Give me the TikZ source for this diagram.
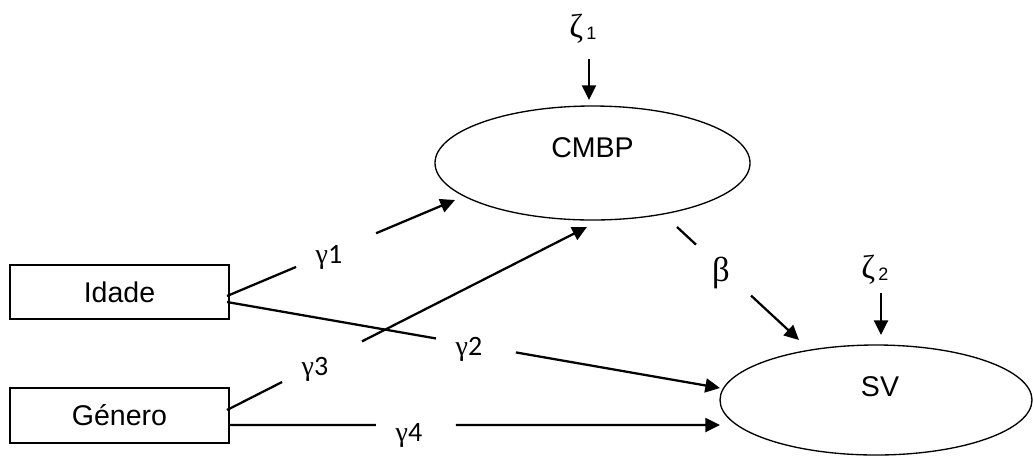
\documentclass[tikz,border=0pt]{standalone}
\usepackage{fontspec}
\setmainfont{Liberation Sans}
\newfontfamily\grk{Liberation Serif}
\newfontfamily\calfont{Carlito}
\usetikzlibrary{arrows.meta,calc,shapes.geometric}
\begin{document}
\begin{tikzpicture}[x=0.75pt,y=-0.75pt,
  box/.style={draw,line width=1pt,inner sep=0pt,minimum width=164.25pt,minimum height=40.5pt,
    font=\fontsize{21.4pt}{24pt}\selectfont},
  ell/.style={draw,ellipse,line width=1pt,inner sep=0pt},
  main/.style={font=\fontsize{21.4pt}{24pt}\selectfont,inner sep=0pt},
  conn/.style={line width=1.7pt},
  arr/.style={conn,-{Triangle[length=11pt,width=10.5pt]}},
  lab/.style={inner sep=0pt,font=\fontsize{21pt}{23pt}\selectfont},
  zlab/.style={inner sep=0pt,anchor=base west}
]
\useasboundingbox (0,0) rectangle (1034,455);

% boxes
\node[box] (idade) at (119.5,292) {Idade};
\node[box,minimum height=41.25pt] (genero) at (119.5,415.5) {Género};

% ellipses
\node[ell,minimum width=236.25pt,minimum height=85.5pt] (cmbp) at (592.5,163) {};
\node[main] (cmbpT) at (592.5,147.5) {CMBP};
\node[ell,minimum width=234pt,minimum height=82.5pt] (sv) at (876,400) {};
\node[main] (svT) at (880,387) {SV};

% disturbances
\node[zlab] (z1) at (569,37) {{\grk\fontsize{25pt}{28pt}\selectfont ζ}\hspace{2.5pt}\raisebox{-1.5pt}{\fontsize{13.5pt}{15pt}\selectfont 1}};
\node[zlab] (z2) at (861,278) {{\grk\fontsize{25pt}{28pt}\selectfont ζ}\hspace{2.5pt}\raisebox{-1.5pt}{\fontsize{13.5pt}{15pt}\selectfont 2}};
\coordinate (z1s) at (589,59);
\coordinate (z1e) at (589,100);
\coordinate (z2s) at (881,293);
\coordinate (z2e) at (881,335);
\draw[arr] (z1s) -- (z1e);
\draw[arr] (z2s) -- (z2e);

% gamma 1
\coordinate (a1) at (227,296);
\coordinate (b1) at (455,200);
\draw[conn] (a1) -- ($(a1)!0.303!(b1)$);
\draw[arr] ($(a1)!0.654!(b1)$) -- (b1);
\node[lab] (l1) at (329,257) {{\grk γ}{\calfont 1}};

% gamma 2
\coordinate (a2) at (227,302);
\coordinate (b2) at (720,388);
\draw[conn] (a2) -- ($(a2)!0.424!(b2)$);
\draw[arr] ($(a2)!0.586!(b2)$) -- (b2);
\node[lab] (l2) at (469,349) {{\grk γ}{\calfont 2}};

% gamma 3
\coordinate (a3) at (227,410);
\coordinate (b3) at (587,227);
\draw[conn] (a3) -- ($(a3)!0.153!(b3)$);
\draw[arr] ($(a3)!0.375!(b3)$) -- (b3);
\node[lab] (l3) at (315,369) {{\grk γ}{\calfont 3}};

% gamma 4
\coordinate (a4) at (229,425);
\coordinate (b4) at (720,425);
\draw[conn] (a4) -- ($(a4)!0.299!(b4)$);
\draw[arr] ($(a4)!0.462!(b4)$) -- (b4);
\node[lab] (l4) at (409,435) {{\grk γ}{\calfont 4}};

% beta
\coordinate (a5) at (677,227);
\coordinate (b5) at (799,340);
\draw[conn] (a5) -- ($(a5)!0.156!(b5)$);
\draw[arr] ($(a5)!0.607!(b5)$) -- (b5);
\node[lab,font=\grk\fontsize{26pt}{28pt}\selectfont] (lb) at (721,273) {β};
\end{tikzpicture}
\end{document}
